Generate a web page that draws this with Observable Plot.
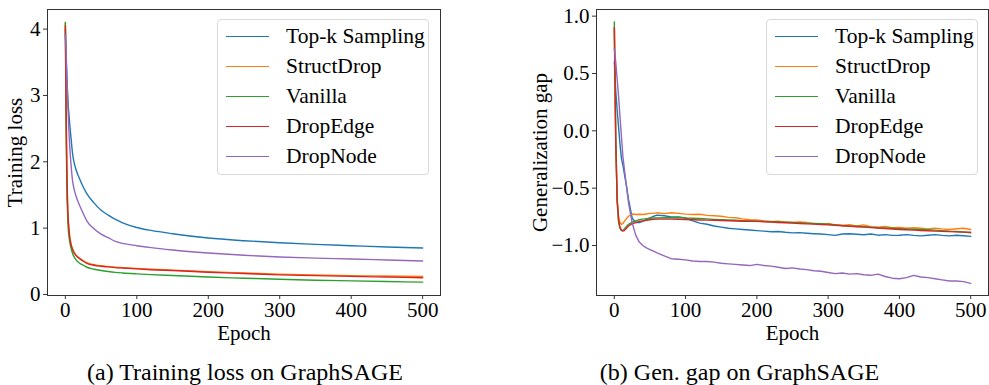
<!DOCTYPE html>
<html><head><meta charset="utf-8">
<script src="https://cdn.jsdelivr.net/npm/d3@7"></script>
<script src="https://cdn.jsdelivr.net/npm/@observablehq/plot@0.6"></script>
<style>
body{margin:0;background:#fff;font-family:"Liberation Serif","Times New Roman",serif;}
#wrap{position:relative;width:989px;height:385px;overflow:hidden;}
.panel{position:absolute;top:0;height:385px;}
.caption{position:absolute;top:360px;width:100%;text-align:center;font-size:24px;line-height:24px;color:#000;}
.legend{position:absolute;top:19px;width:212px;height:156px;border:1px solid #d9d9d9;border-radius:4px;background:rgba(255,255,255,0.85);box-sizing:border-box;}
.row{position:absolute;left:8px;height:30px;display:flex;align-items:center;font-size:21.5px;color:#000;white-space:nowrap;}
.sw{width:43px;height:0;border-top:1.5px solid;margin-right:17px;}
</style>
</head><body>
<div id="wrap"></div>
<script>
// ---- shared ----
const methods = ["Top-k Sampling", "StructDrop", "Vanilla", "DropEdge", "DropNode"];
const colors = ["#1f77b4", "#ff7f0e", "#2ca02c", "#d62728", "#9467bd"];
const xTicks = [0, 100, 200, 300, 400, 500];

// ---- (a) Training loss ----
const epochsA = [0,1,2,3,4,5,6,8,10,12,15,20,25,30,40,50,60,70,80,100,120,150,200,250,300,350,400,450,500];
const topkA   = [4.0,3.6,3.3,3.05,2.85,2.72,2.58,2.35,2.13,2.0,1.88,1.74,1.62,1.52,1.38,1.27,1.195,1.13,1.08,1.01,0.965,0.915,0.85,0.81,0.78,0.755,0.735,0.715,0.70];
const structA = [4.1,2.85,1.95,1.43,1.14,1.0,0.885,0.76,0.69,0.64,0.592,0.546,0.507,0.478,0.448,0.432,0.421,0.411,0.404,0.391,0.38,0.367,0.343,0.324,0.306,0.294,0.284,0.277,0.27];
const vanillaA= [4.1,2.6,1.7,1.25,1.0,0.88,0.8,0.7,0.62,0.57,0.52,0.47,0.44,0.41,0.38,0.36,0.345,0.333,0.324,0.31,0.298,0.285,0.262,0.245,0.228,0.215,0.205,0.195,0.185];
const dropEdgeA=[4.05,2.8,1.9,1.4,1.12,0.98,0.87,0.75,0.68,0.63,0.585,0.54,0.50,0.47,0.44,0.425,0.415,0.405,0.398,0.385,0.373,0.36,0.335,0.315,0.295,0.283,0.272,0.262,0.252];
const dropNodeA=[3.92,3.65,3.35,3.0,2.72,2.46,2.25,1.95,1.72,1.6,1.48,1.34,1.22,1.11,0.99,0.91,0.855,0.80,0.77,0.735,0.705,0.67,0.625,0.59,0.565,0.548,0.535,0.52,0.505];
const yTicksA = [0, 1, 2, 3, 4];

// ---- (b) Generalization gap ----
const epochsB = [0,2,4,6,8,10,12,14,17,20,25,30,35,40,45,50,55,60,70,80,90,100,110,120,130,140,150,160,170,180,190,200,210,220,230,240,250,260,270,280,290,300,310,320,330,340,350,360,370,380,390,400,410,420,430,440,450,460,470,480,490,500];
const topkB   = [0.6,0.35,0.18,0.03,-0.12,-0.24,-0.3,-0.37,-0.48,-0.6,-0.76,-0.8,-0.8,-0.79,-0.775,-0.76,-0.745,-0.735,-0.74,-0.75,-0.75,-0.76,-0.785,-0.805,-0.815,-0.83,-0.84,-0.85,-0.855,-0.86,-0.865,-0.87,-0.875,-0.88,-0.878,-0.885,-0.89,-0.888,-0.893,-0.897,-0.9,-0.905,-0.912,-0.9,-0.897,-0.902,-0.906,-0.9,-0.91,-0.905,-0.912,-0.91,-0.905,-0.912,-0.916,-0.91,-0.905,-0.912,-0.916,-0.91,-0.915,-0.92];
const structB = [0.9,-0.1,-0.6,-0.75,-0.8,-0.815,-0.81,-0.79,-0.765,-0.745,-0.725,-0.73,-0.728,-0.73,-0.725,-0.72,-0.72,-0.715,-0.722,-0.714,-0.72,-0.726,-0.73,-0.728,-0.737,-0.74,-0.745,-0.755,-0.758,-0.768,-0.775,-0.778,-0.785,-0.79,-0.788,-0.795,-0.8,-0.795,-0.8,-0.81,-0.814,-0.808,-0.82,-0.826,-0.818,-0.83,-0.82,-0.835,-0.84,-0.833,-0.845,-0.843,-0.85,-0.845,-0.85,-0.856,-0.848,-0.855,-0.86,-0.854,-0.85,-0.86];
const vanillaB= [0.95,-0.05,-0.62,-0.8,-0.85,-0.87,-0.868,-0.855,-0.835,-0.815,-0.797,-0.785,-0.775,-0.77,-0.766,-0.762,-0.76,-0.76,-0.757,-0.758,-0.756,-0.76,-0.762,-0.765,-0.768,-0.772,-0.775,-0.777,-0.78,-0.783,-0.785,-0.788,-0.79,-0.793,-0.795,-0.797,-0.8,-0.803,-0.805,-0.807,-0.81,-0.815,-0.82,-0.825,-0.83,-0.832,-0.835,-0.84,-0.845,-0.847,-0.85,-0.853,-0.855,-0.858,-0.86,-0.863,-0.866,-0.87,-0.875,-0.878,-0.882,-0.89];
const dropEdgeB=[0.9,-0.1,-0.6,-0.78,-0.84,-0.865,-0.875,-0.87,-0.85,-0.83,-0.81,-0.8,-0.79,-0.785,-0.78,-0.775,-0.772,-0.77,-0.77,-0.77,-0.771,-0.773,-0.775,-0.777,-0.779,-0.78,-0.782,-0.784,-0.786,-0.788,-0.789,-0.79,-0.793,-0.796,-0.799,-0.802,-0.805,-0.808,-0.811,-0.814,-0.817,-0.82,-0.824,-0.828,-0.832,-0.836,-0.84,-0.844,-0.848,-0.852,-0.856,-0.86,-0.863,-0.866,-0.869,-0.872,-0.875,-0.877,-0.879,-0.881,-0.883,-0.885];
const dropNodeB=[0.72,0.6,0.45,0.3,0.12,-0.05,-0.22,-0.33,-0.48,-0.63,-0.8,-0.91,-0.97,-1.0,-1.02,-1.035,-1.05,-1.065,-1.09,-1.115,-1.12,-1.125,-1.135,-1.14,-1.14,-1.145,-1.155,-1.16,-1.165,-1.17,-1.175,-1.165,-1.175,-1.18,-1.19,-1.2,-1.195,-1.205,-1.21,-1.22,-1.225,-1.235,-1.245,-1.24,-1.25,-1.245,-1.255,-1.26,-1.25,-1.27,-1.285,-1.29,-1.28,-1.26,-1.275,-1.28,-1.29,-1.3,-1.31,-1.31,-1.315,-1.33];
const yTicksB = [-1.0, -0.5, 0.0, 0.5, 1.0];

function makePanel(cfg) {
  const marks = [];
  cfg.series.forEach((vals, i) => {
    const data = cfg.epochs.map((e, j) => ({epoch: e, value: vals[j]}));
    marks.push(Plot.line(data, {x: "epoch", y: "value", stroke: colors[i], strokeWidth: 1.4, curve: cfg.curve}));
  });
  marks.push(Plot.frame({stroke: "#333", strokeWidth: 1}));
  marks.push(Plot.axisX({ticks: xTicks, tickSize: 4, tickPadding: 3, fontSize: 21, stroke: "#333", fill: "#000",
    label: "Epoch", labelAnchor: "center", labelArrow: "none", labelOffset: 44}));
  marks.push(Plot.axisY({ticks: cfg.yTicks, tickFormat: cfg.yFormat, tickSize: 4, tickPadding: 3, fontSize: 21, stroke: "#333", fill: "#000",
    label: cfg.yLabel, labelAnchor: "center", labelArrow: "none", labelOffset: cfg.yLabelOffset}));
  return Plot.plot({
    width: cfg.width, height: 345,
    marginLeft: cfg.mL, marginRight: cfg.mR, marginTop: 9, marginBottom: 50,
    style: {fontFamily: "Liberation Serif, Times New Roman, serif", fontSize: "21px", background: "transparent", overflow: "visible"},
    x: {domain: [-25, 525]},
    y: {domain: cfg.yDomain},
    marks
  });
}

function legend(left) {
  const lg = document.createElement("div");
  lg.className = "legend";
  lg.style.left = left + "px";
  methods.forEach((m, i) => {
    const r = document.createElement("div");
    r.className = "row";
    r.style.top = (1 + i * 30) + "px";
    const sw = document.createElement("span");
    sw.className = "sw";
    sw.style.borderTopColor = colors[i];
    r.appendChild(sw);
    r.appendChild(document.createTextNode(m));
    lg.appendChild(r);
  });
  return lg;
}

const wrap = document.getElementById("wrap");

const pA = document.createElement("div");
pA.className = "panel"; pA.style.left = "0px"; pA.style.width = "490px";
pA.appendChild(makePanel({epochs: epochsA, series: [topkA, structA, vanillaA, dropEdgeA, dropNodeA],
  yDomain: [-0.016, 4.296], yTicks: yTicksA, yFormat: d3.format("d"), yLabel: "Training loss", yLabelOffset: 40,
  width: 490, mL: 47, mR: 50, curve: "monotone-x"}));
pA.appendChild(legend(217));
const cA = document.createElement("div"); cA.className = "caption"; cA.textContent = "(a) Training loss on GraphSAGE";
pA.appendChild(cA);
wrap.appendChild(pA);

const pB = document.createElement("div");
pB.className = "panel"; pB.style.left = "490px"; pB.style.width = "499px";
pB.appendChild(makePanel({epochs: epochsB, series: [topkB, structB, vanillaB, dropEdgeB, dropNodeB],
  yDomain: [-1.436, 1.058], yTicks: yTicksB, yFormat: d3.format(".1f"), yLabel: "Generalization gap", yLabelOffset: 64,
  width: 499, mL: 106, mR: 1, curve: "linear"}));
pB.appendChild(legend(276));
const cB = document.createElement("div"); cB.className = "caption"; cB.textContent = "(b) Gen. gap on GraphSAGE";
pB.appendChild(cB);
wrap.appendChild(pB);
</script>
</body></html>
